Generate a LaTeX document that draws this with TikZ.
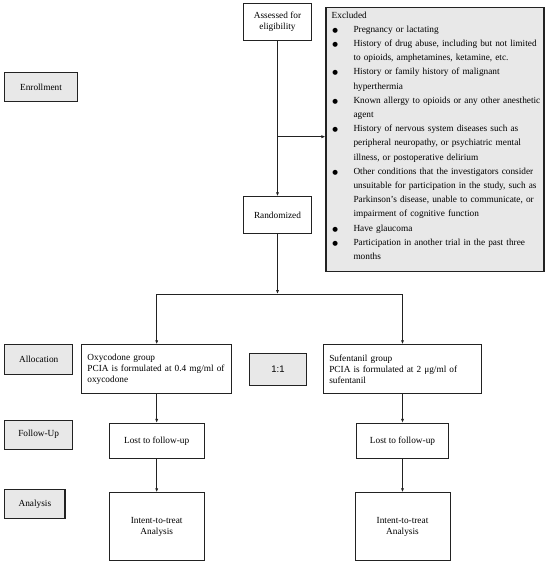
\documentclass[tikz,border=0pt]{standalone}
\usepackage{fontspec}
\setmainfont{Liberation Serif}
\newfontfamily\labsans{Liberation Sans}
\newfontfamily\dejavu{DejaVu Sans}
\usetikzlibrary{arrows.meta}
\definecolor{boxgray}{HTML}{E8E8E8}
\definecolor{edge}{HTML}{222222}
\newcommand\bul{\makebox[21.8pt][l]{\hspace{0.6pt}{\dejavu\fontsize{6.5}{6.5}\selectfont ●}}}
\newcommand\bitem[1]{\noindent\hangindent=21.8pt\hangafter=1\bul #1\par}
\newcommand\nl{\hfill\break}
\hbadness=10000
\begin{document}
\begin{tikzpicture}[x=1pt,y=-1pt,
  every node/.style={font=\fontsize{9.3}{10.9}\selectfont},
  wbox/.style={draw=edge,line width=0.9pt,fill=white,inner sep=0pt,align=center},
  gbox/.style={draw=edge,line width=1.1pt,fill=boxgray,inner sep=0pt,align=center},
  arr/.style={draw=edge,line width=0.8pt,-{Latex[length=4pt,width=3.2pt]}}]
\useasboundingbox (0,0) rectangle (550,565);
\fill[white] (0,0) rectangle (550,565);

\node[wbox,minimum width=68.4,minimum height=36.7] (assess) at (277.5,21.7) {Assessed for\\eligibility};
\node[gbox,minimum width=218,minimum height=264.4] (excl) at (435,139.5) {};
\node[anchor=north west,inner sep=0pt,text width=210pt,font=\fontsize{9.3}{14.2}\selectfont] (exctxt) at (331.5,11.5) {%
\noindent Excluded\par
\bitem{Pregnancy or lactating}
\bitem{History of drug abuse, including but not limited\nl to opioids, amphetamines, ketamine, etc.}
\bitem{History or family history of malignant\nl hyperthermia}
\bitem{Known allergy to opioids or any other anesthetic\nl agent}
\bitem{History of nervous system diseases such as\nl peripheral neuropathy, or psychiatric mental\nl illness, or postoperative delirium}
\bitem{Other conditions that the investigators consider\nl unsuitable for participation in the study, such as\nl Parkinson’s disease, unable to communicate, or\nl impairment of cognitive function}
\bitem{Have glaucoma}
\bitem{Participation in another trial in the past three\nl months}};
\node[wbox,minimum width=68.4,minimum height=36.6] (rand) at (277.5,215) {Randomized};

\node[gbox,minimum width=72.6,minimum height=29.7] (enroll) at (41,86.9) {Enrollment};
\node[gbox,minimum width=68,minimum height=29.6] (alloc) at (38.7,359.5) {Allocation};
\node[gbox,minimum width=68,minimum height=29.3] (follow) at (38.7,434.7) {Follow-Up};
\node[gbox,minimum width=60.3,minimum height=29] (anal) at (34.85,503.8) {Analysis};

\node[wbox,minimum width=150,minimum height=48.6,text width=138.6pt,align=left] (oxy) at (156.7,369) {Oxycodone group\\PCIA is formulated at 0.4 mg/ml of\\oxycodone};
\node[wbox,minimum width=158.4,minimum height=48.6,text width=146.4pt,align=left] (suf) at (402.5,369) {Sufentanil group\\PCIA is formulated at 2 μg/ml of\\sufentanil};
\node[gbox,minimum width=57.7,minimum height=31.7,font=\labsans\fontsize{9.5}{11}\selectfont] (ratio) at (278,369.2) {1:1};

\node[wbox,minimum width=94.7,minimum height=35] (lost1) at (156.7,440.8) {Lost to follow-up};
\node[wbox,minimum width=91.6,minimum height=35] (lost2) at (402.5,440.8) {Lost to follow-up};
\node[wbox,minimum width=94.7,minimum height=68] (itt1) at (156.7,526.7) {Intent-to-treat\\Analysis};
\node[wbox,minimum width=95,minimum height=68] (itt2) at (402.5,526.7) {Intent-to-treat\\Analysis};

\draw[arr] (assess) -- (rand);
\coordinate (br) at (277.5,136.7);
\draw[arr] (br) -- (br -| excl.west);
\coordinate (jn) at (277.5,294);
\draw[arr] (rand) -- (jn);
\draw[arr] (jn) -| (oxy.north);
\draw[arr] (jn) -| (suf.north);
\draw[arr] (oxy) -- (lost1);
\draw[arr] (lost1) -- (itt1);
\draw[arr] (suf) -- (lost2);
\draw[arr] (lost2) -- (itt2);
\end{tikzpicture}
\end{document}
